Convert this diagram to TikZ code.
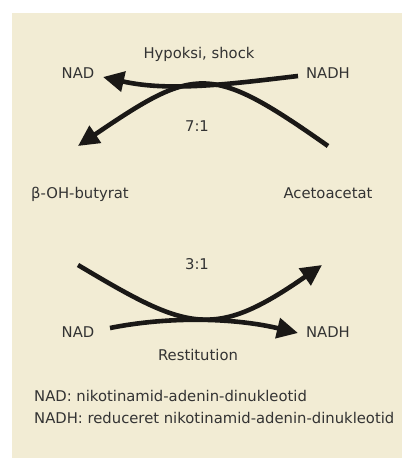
\documentclass[tikz,border=0pt]{standalone}
\usepackage{fontspec}
\setmainfont{DejaVu Sans}
\usetikzlibrary{arrows.meta}
\definecolor{bgbeige}{RGB}{242,236,212}
\definecolor{txtgray}{RGB}{51,51,51}
\definecolor{arrowblack}{RGB}{26,24,22}
\begin{document}
\begin{tikzpicture}[x=1pt,y=-1pt,
  lbl/.style={anchor=base,inner sep=0pt,text=txtgray,font=\fontsize{14.8}{17}\selectfont},
  lbll/.style={anchor=base west,inner sep=0pt,text=txtgray,font=\fontsize{14.8}{17}\selectfont},
  flow/.style={line width=4.6pt,draw=arrowblack,-{Triangle[length=21pt,width=20pt]}}]
\useasboundingbox (0,0) rectangle (402,458);
\fill[bgbeige] (12,13) rectangle (402,458);
% upper part
\node[lbl] (hyp) at (199,58) {Hypoksi, shock};
\node[lbl] (nad1) at (78,78) {NAD};
\node[lbl] (nadh1) at (328,78) {NADH};
\node[lbl] (r71) at (197,131) {7:1};
\node[lbl] (bohb) at (80,198) {β-OH-butyrat};
\node[lbl] (aca) at (328,198) {Acetoacetat};
\coordinate (s1) at (298,76);
\coordinate (t1) at (103,77);
\coordinate (s2) at (328,146);
\coordinate (t2) at (78,146);
\draw[flow] (s1) .. controls (230,84) and (170,92) .. (t1);
\draw[flow] (s2) .. controls (210,63) and (196,66) .. (t2);
% lower part
\node[lbl] (r31) at (197,269) {3:1};
\node[lbl] (nad2) at (78,337) {NAD};
\node[lbl] (nadh2) at (328,337) {NADH};
\node[lbl] (rest) at (198,360) {Restitution};
\coordinate (s3) at (78,265);
\coordinate (t3) at (322,265);
\coordinate (s4) at (110,328);
\coordinate (t4) at (298,333);
\draw[flow] (s3) .. controls (187,330) and (213,341) .. (t3);
\draw[flow] (s4) .. controls (170,316) and (235,318) .. (t4);
% legend
\node[lbll] (leg1) at (34,401) {NAD: nikotinamid-adenin-dinukleotid};
\node[lbll] (leg2) at (34,423) {NADH: reduceret nikotinamid-adenin-dinukleotid};
\end{tikzpicture}
\end{document}
